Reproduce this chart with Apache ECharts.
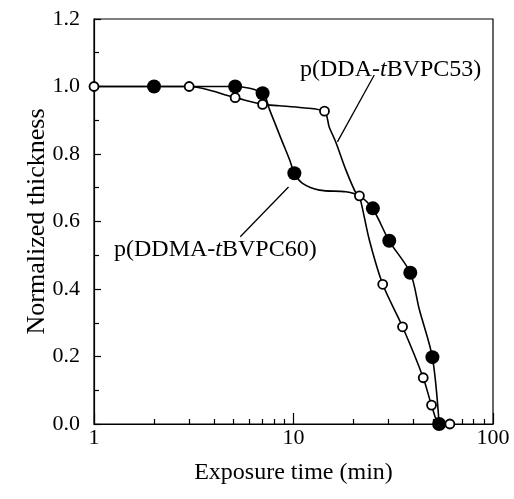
<!DOCTYPE html>
<html><head><meta charset="utf-8">
<script src="https://cdn.jsdelivr.net/npm/echarts@6/dist/echarts.min.js"></script>
<style>html,body{margin:0;padding:0;background:#fff}#c{width:514px;height:499px}</style>
</head><body><div id="c"></div>
<script>
// Measured markers
const ddmaTime  = [2, 5.1, 7, 10.1, 25, 30.2, 38.5, 49.7, 53.7];
const ddmaThick = [1.0, 1.0, 0.98, 0.743, 0.639, 0.543, 0.448, 0.198, 0.0];
const ddaTime   = [1, 3, 5.1, 7, 14.3, 21.4, 28, 35.2, 44.7, 49.2, 60.8];
const ddaThick  = [1.0, 1.0, 0.967, 0.947, 0.927, 0.676, 0.414, 0.288, 0.137, 0.056, 0.0];
// Drawn curves
const ddmaCurveTime  = [1, 2, 5.1, 7, 7.6, 8.6, 9.6, 10.1, 11.1, 13.5, 18.3, 21.4, 25, 30.2, 38.5, 42.7, 49.7, 53.7];
const ddmaCurveThick = [1.0, 1.0, 1.0, 0.98, 0.93, 0.85, 0.78, 0.743, 0.713, 0.693, 0.688, 0.676, 0.637, 0.542, 0.448, 0.34, 0.197, 0.0];
const ddaCurveTime   = [1, 3, 5.1, 7, 8.5, 11.1, 14.3, 15.1, 16.3, 18.3, 20.6, 21.4, 24, 28, 35.2, 44.7, 49.2, 54, 60.8];
const ddaCurveThick  = [1.0, 1.0, 0.967, 0.947, 0.943, 0.937, 0.925, 0.88, 0.835, 0.753, 0.683, 0.676, 0.545, 0.414, 0.288, 0.137, 0.056, 0.0, 0.0];
// Annotation pointers (data coordinates)
const ddaPointer  = [[25.4, 1.034], [16.6, 0.836]];
const ddmaPointer = [[9.44, 0.702], [5.41, 0.555]];
const xMajorTicks = [1, 10, 100];
const xMinorTicks = [2, 3, 4, 5, 6, 7, 8, 9, 20, 30, 40, 50, 60, 70, 80, 90];

const zip = (a, b) => a.map((v, i) => [v, b[i]]);
const FONT = '"Liberation Serif", "Times New Roman", serif';
const chart = echarts.init(document.getElementById('c'), null, {renderer: 'canvas'});
chart.setOption({
  backgroundColor: '#fff',
  animation: false,
  grid: {left: 94, right: 21, top: 19, bottom: 75, show: true, borderColor: '#000', borderWidth: 1.2, backgroundColor: 'transparent'},
  xAxis: [{
    type: 'log', logBase: 10, min: 1, max: 100, gridIndex: 0,
    name: 'Exposure time (min)', nameLocation: 'middle', nameGap: 37,
    nameTextStyle: {fontFamily: FONT, fontSize: 24, color: '#000'},
    axisLine: {show: true, lineStyle: {color: '#000', width: 1.2}},
    axisTick: {show: true, inside: true, length: 11, lineStyle: {color: '#000', width: 1.2}, customValues: xMajorTicks},
    axisLabel: {fontFamily: FONT, fontSize: 22, color: '#000', margin: 3, customValues: xMajorTicks},
    splitLine: {show: false}
  }, {
    type: 'log', logBase: 10, min: 1, max: 100, gridIndex: 0, position: 'bottom',
    axisLine: {show: false},
    axisTick: {show: true, inside: true, length: 5, lineStyle: {color: '#000', width: 1.2}, customValues: xMinorTicks},
    axisLabel: {show: false},
    splitLine: {show: false}
  }],
  yAxis: {
    type: 'value', min: 0, max: 1.2, interval: 0.2,
    name: 'Normalized thickness', nameLocation: 'middle', nameGap: 44, nameMoveOverlap: false,
    nameTextStyle: {fontFamily: FONT, fontSize: 26, color: '#000'},
    axisLine: {show: true, lineStyle: {color: '#000', width: 1.2}},
    axisTick: {show: true, inside: true, length: 7, lineStyle: {color: '#000', width: 1.2}},
    minorTick: {show: true, splitNumber: 2, length: 5, lineStyle: {color: '#000', width: 1.2}},
    axisLabel: {fontFamily: FONT, fontSize: 22, color: '#000', margin: 14, formatter: v => v.toFixed(1)},
    splitLine: {show: false}
  },
  series: [
    {type: 'line', data: zip(ddmaCurveTime, ddmaCurveThick), showSymbol: false, smooth: 0.3,
     lineStyle: {color: '#000', width: 1.6}, z: 2,
     markLine: {silent: true, symbol: 'none', label: {show: false}, lineStyle: {color: '#000', width: 1.3, type: 'solid'},
       data: [[{coord: ddmaPointer[0]}, {coord: ddmaPointer[1]}]]}},
    {type: 'line', data: zip(ddaCurveTime, ddaCurveThick), showSymbol: false, smooth: 0.3,
     lineStyle: {color: '#000', width: 1.6}, z: 2,
     markLine: {silent: true, symbol: 'none', label: {show: false}, lineStyle: {color: '#000', width: 1.3, type: 'solid'},
       data: [[{coord: ddaPointer[0]}, {coord: ddaPointer[1]}]]}},
    {type: 'scatter', data: zip(ddmaTime, ddmaThick), symbol: 'circle', symbolSize: 14, clip: false,
     itemStyle: {color: '#000', opacity: 1}, z: 4},
    {type: 'scatter', data: zip(ddaTime, ddaThick), symbol: 'circle', symbolSize: 9, clip: false,
     itemStyle: {color: '#fff', borderColor: '#000', borderWidth: 1.8, opacity: 1}, z: 5}
  ],
  graphic: [
    {type: 'text', left: 300, top: 58, style: {text: 'p(DDA-{i|t}BVPC53)', fontFamily: FONT, fontSize: 24, fill: '#000',
      rich: {i: {fontStyle: 'italic', fontFamily: FONT, fontSize: 24}}}},
    {type: 'text', left: 114, top: 238, style: {text: 'p(DDMA-{i|t}BVPC60)', fontFamily: FONT, fontSize: 24, fill: '#000',
      rich: {i: {fontStyle: 'italic', fontFamily: FONT, fontSize: 24}}}}
  ]
});
</script>
</body></html>
